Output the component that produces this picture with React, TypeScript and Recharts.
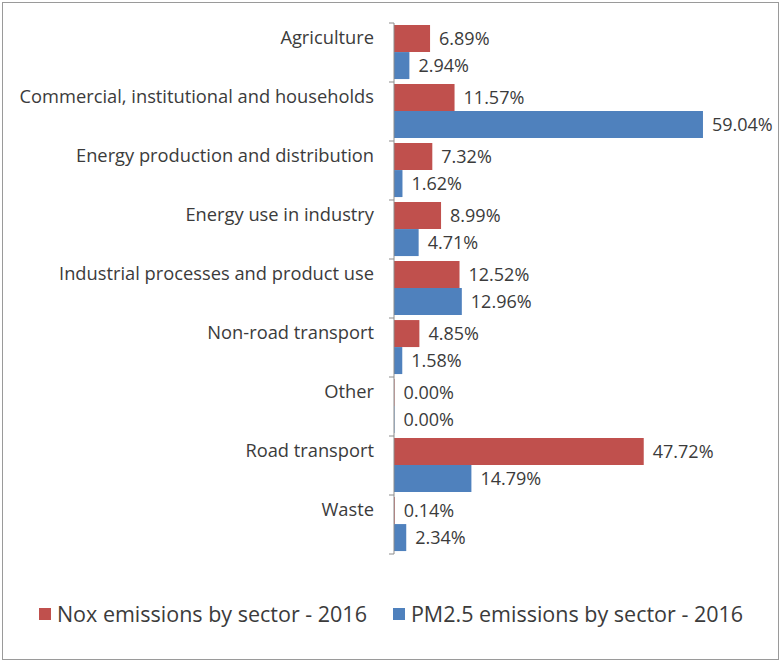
import React from 'react';
import { BarChart, Bar, XAxis, YAxis, Legend, LabelList } from 'recharts';

const sectors = [
  'Agriculture',
  'Commercial, institutional and households',
  'Energy production and distribution',
  'Energy use in industry',
  'Industrial processes and product use',
  'Non-road transport',
  'Other',
  'Road transport',
  'Waste',
];
const noxShares = [6.89, 11.57, 7.32, 8.99, 12.52, 4.85, 0.0, 47.72, 0.14];
const pm25Shares = [2.94, 59.04, 1.62, 4.71, 12.96, 1.58, 0.0, 14.79, 2.34];
const seriesNames = ['Nox emissions by sector - 2016', 'PM2.5 emissions by sector - 2016'];

const data = sectors.map((sector, i) => ({ sector, nox: noxShares[i], pm25: pm25Shares[i] }));

const RED = '#C0504D';
const BLUE = '#4F81BD';
const TEXT = '#3b3b3b';
const FONT = '"Open Sans", sans-serif';

const W = 782;
const H = 663;
const MARGIN = { top: 23, right: 74, bottom: 109, left: 0 };
const HALF_BAND = (H - MARGIN.top - MARGIN.bottom) / sectors.length / 2;

// label sits a bit above the band centre, ticks go on the band boundaries like Excel
const SectorTick = (props: any) => {
  const { x, y, payload, index } = props;
  return (
    <g>
      <line x1={x + 15} x2={x + 20} y1={y - HALF_BAND} y2={y - HALF_BAND} stroke="#8c8c8c" />
      {index === sectors.length - 1 && (
        <line x1={x + 15} x2={x + 20} y1={y + HALF_BAND} y2={y + HALF_BAND} stroke="#8c8c8c" />
      )}
      <text x={x} y={y - 15} dy="0.35em" textAnchor="end" fill={TEXT} fontSize={18.3} fontFamily={FONT}>
        {payload.value}
      </text>
    </g>
  );
};

const LegendContent = () => (
  <div style={{ display: 'flex', justifyContent: 'center', alignItems: 'center', fontFamily: FONT, fontSize: 21.5, color: TEXT }}>
    {seriesNames.map((name, i) => (
      <div key={name} style={{ display: 'flex', alignItems: 'center', marginRight: i === 0 ? 26 : 0 }}>
        <span style={{ width: 12, height: 12, background: i === 0 ? RED : BLUE, marginRight: 6, display: 'inline-block' }} />
        <span>{name}</span>
      </div>
    ))}
  </div>
);

const fmt = (v: any) => `${Number(v).toFixed(2)}%`;

export default function App() {
  return (
    <div style={{ position: 'relative', width: W, height: H, background: '#fff' }}>
      <style>{'body{margin:0}'}</style>
      <div style={{ position: 'absolute', left: 2, top: 2, width: 775, height: 656, border: '1.5px solid #9a9a9a' }} />
      <BarChart
        width={W}
        height={H}
        data={data}
        layout="vertical"
        margin={MARGIN}
        barCategoryGap="3.5%"
        barGap={0}
      >
        <XAxis type="number" domain={[0, 60]} hide />
        <YAxis
          type="category"
          dataKey="sector"
          width={394}
          axisLine={{ stroke: '#8c8c8c' }}
          tickLine={false}
          tickSize={0}
          tickMargin={20}
          interval={0}
          tick={<SectorTick />}
        />
        <Legend
          layout="horizontal"
          verticalAlign="middle"
          align="center"
          content={<LegendContent />}
          wrapperStyle={{ top: 599, left: 0, width: W }}
        />
        <Bar dataKey="nox" name={seriesNames[0]} fill={RED} minPointSize={0.5} isAnimationActive={false}>
          <LabelList dataKey="nox" position="right" offset={9} formatter={fmt} fill={TEXT} fontSize={18} fontFamily={FONT} />
        </Bar>
        <Bar dataKey="pm25" name={seriesNames[1]} fill={BLUE} minPointSize={0.5} isAnimationActive={false}>
          <LabelList dataKey="pm25" position="right" offset={9} formatter={fmt} fill={TEXT} fontSize={18} fontFamily={FONT} />
        </Bar>
      </BarChart>
    </div>
  );
}
